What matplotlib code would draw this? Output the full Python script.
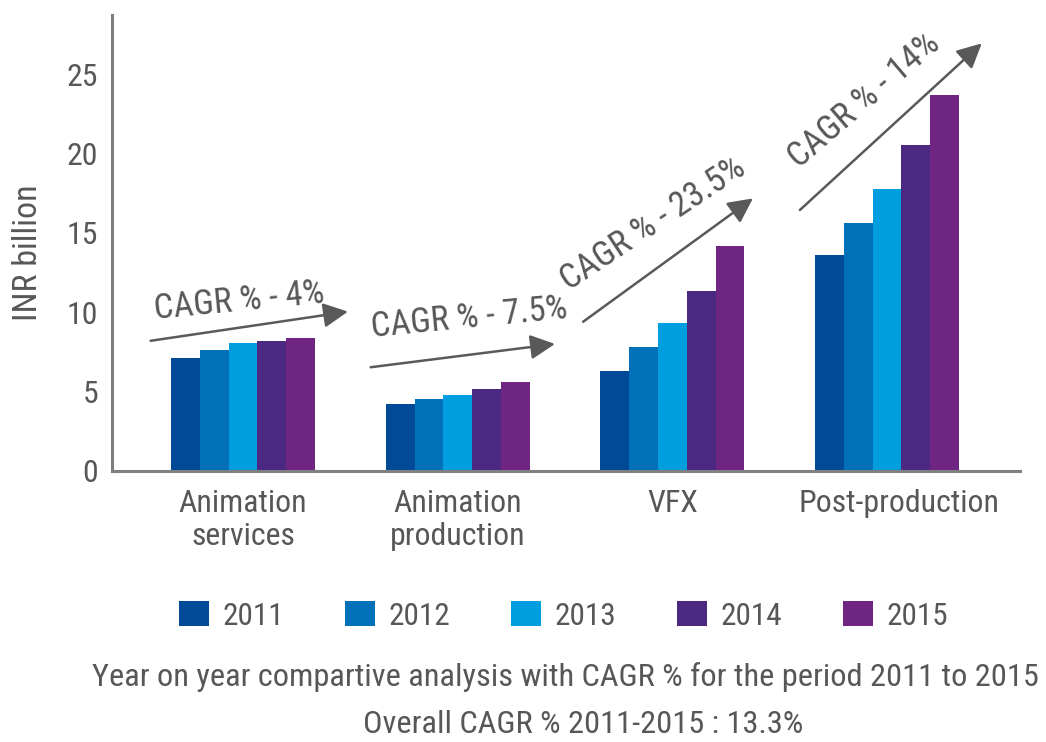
import matplotlib
matplotlib.use('Agg')
import matplotlib.pyplot as plt
import numpy as np
from matplotlib import font_manager as fm
from matplotlib.transforms import ScaledTranslation

# ---------------- data ----------------
categories = ['Animation\nservices', 'Animation\nproduction', 'VFX', 'Post-production']
years = ['2011', '2012', '2013', '2014', '2015']
v2011 = [7.1, 4.2, 6.3, 13.6]
v2012 = [7.6, 4.5, 7.8, 15.6]
v2013 = [8.05, 4.75, 9.3, 17.8]
v2014 = [8.2, 5.15, 11.35, 20.55]
v2015 = [8.35, 5.6, 14.15, 23.7]
yticks = [0, 5, 10, 15, 20, 25]
cagr_labels = ['CAGR % - 4%', 'CAGR % - 7.5%', 'CAGR % - 23.5%', 'CAGR % - 14%']
ylabel = 'INR billion'
footnote1 = 'Year on year compartive analysis with CAGR % for the period 2011 to 2015'
footnote2 = 'Overall CAGR % 2011-2015 : 13.3%'

# ---------------- style ----------------
colors = ['#004a97', '#0070b9', '#009ede', '#4b2882', '#6e2682']
GRAY = '#575757'
AXGRAY = '#808080'

entries = fm.fontManager.ttflist
names = {f.name for f in entries}
FONT, STRETCH = None, 'normal'
for pref in ['Liberation Sans Narrow', 'Roboto Condensed', 'Noto Sans Condensed',
             'Open Sans Condensed', 'DejaVu Sans Condensed']:
    if pref in names:
        FONT = pref
        break
if FONT is None:
    if any(f.name == 'DejaVu Sans' and str(f.stretch) == 'condensed' for f in entries):
        FONT, STRETCH = 'DejaVu Sans', 'condensed'
    elif 'Liberation Sans' in names:
        FONT = 'Liberation Sans'
    else:
        FONT = 'DejaVu Sans'
plt.rcParams['font.family'] = [FONT, 'DejaVu Sans']
plt.rcParams['font.stretch'] = STRETCH

W, H = 1046, 742
fig = plt.figure(figsize=(W / 100, H / 100), dpi=100)
renderer = fig.canvas.get_renderer()


def text_width(s, size):
    t = fig.text(0, 0, s, fontsize=size)
    w = t.get_window_extent(renderer).width
    t.remove()
    return w


# scale font sizes so the long footnote spans ~950 px like the reference
SC = 950.0 / text_width(footnote1, 24.9)
FS_Y = 24.5 * SC
FS_X = 24.5 * SC
FS_ANN = 26.5 * SC
FS_YL = 26 * SC
FS_LEG = 24 * SC
FS_FOOT = 24.9 * SC

ax = fig.add_axes([112 / W, 1 - 470.5 / H, (1020 - 112) / W, (470.5 - 15) / H])

series = [v2011, v2012, v2013, v2014, v2015]
x = np.arange(len(categories))
bw = 0.134
handles = []
for k, (vals, c, yr) in enumerate(zip(series, colors, years)):
    b = ax.bar(x + (k - 2) * bw, vals, bw, color=c, label=yr, linewidth=0)
    handles.append(b)

ax.set_xlim(-0.610, 3.619)
ax.set_ylim(0, 28.76)

for s in ['top', 'right']:
    ax.spines[s].set_visible(False)
for s in ['left', 'bottom']:
    ax.spines[s].set_color(AXGRAY)
    ax.spines[s].set_linewidth(2.2)

ax.set_yticks(yticks)
ax.set_yticklabels([str(t) for t in yticks])
ax.set_xticks(x)
ax.set_xticklabels(categories)
ax.tick_params(axis='y', length=0, pad=10, labelsize=FS_Y, labelcolor=GRAY)
ax.tick_params(axis='x', length=0, pad=13, labelsize=FS_X, labelcolor=GRAY)
lbls = ax.get_xticklabels()
lbls[-1].set_transform(lbls[-1].get_transform() + ScaledTranslation(12 / 100, 0, fig.dpi_scale_trans))

# CAGR arrows (data coords)
arrow_starts = [(-0.430, 8.19), (0.595, 6.52), (1.584, 9.39), (2.594, 16.45)]
arrow_tips = [(0.489, 10.03), (1.453, 7.99), (2.375, 17.18), (3.441, 26.97)]
text_pos = [(-0.014, 10.07), (1.057, 9.03), (1.933, 15.06), (2.920, 22.92)]
text_rot = [5.5, 5.5, 33.5, 40.6]
for s, t in zip(arrow_starts, arrow_tips):
    ax.annotate('', xy=t, xytext=s,
                arrowprops=dict(arrowstyle='-|>,head_length=0.6,head_width=0.3',
                                mutation_scale=25, color='#595959', lw=1.8,
                                shrinkA=0, shrinkB=0))
for lab, p, r in zip(cagr_labels, text_pos, text_rot):
    ax.text(p[0], p[1], lab, rotation=r, rotation_mode='anchor', ha='center',
            va='baseline', fontsize=FS_ANN, color=GRAY)

fig.text(28 / W, 1 - 253 / H, ylabel, rotation=90, ha='center', va='center',
         fontsize=FS_YL, color=GRAY)

# legend geometry in pixels -> font-size units
px = FS_LEG * 100 / 72
tw = text_width('2011', FS_LEG)
fig.legend(handles=handles, labels=years, loc='center',
           bbox_to_anchor=(563.5 / W, 1 - 616 / H), ncol=5, frameon=False,
           fontsize=FS_LEG, handlelength=30 / px, handleheight=26 / px,
           handletextpad=14 / px, columnspacing=max(0.2, (166 - 30 - 14 - tw) / px),
           borderpad=0, borderaxespad=0, labelcolor=GRAY)

fig.text(565 / W, 1 - 686 / H, footnote1, ha='center', va='baseline',
         fontsize=FS_FOOT, color=GRAY)
fig.text(583 / W, 1 - 733 / H, footnote2, ha='center', va='baseline',
         fontsize=FS_FOOT, color=GRAY)

fig.savefig('out.png', dpi=100, facecolor='white')
